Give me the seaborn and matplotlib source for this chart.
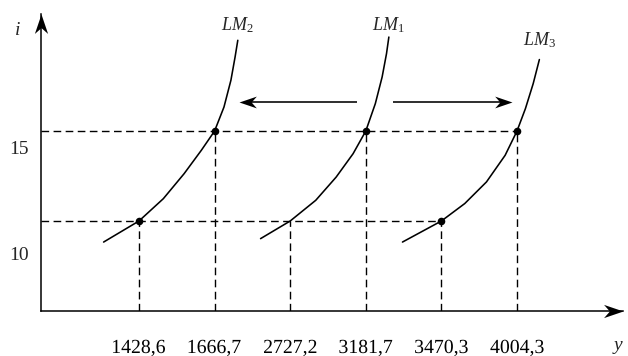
import matplotlib
matplotlib.use("Agg")
import matplotlib.pyplot as plt
import matplotlib.transforms as mtransforms
from matplotlib.path import Path
from matplotlib.patches import PathPatch
from matplotlib.textpath import TextPath
from matplotlib.font_manager import FontProperties
import seaborn as sns

# -----------------------------
# Data (schematic IS-LM shift diagram)
# -----------------------------
# output levels shown on the y (income) axis, one tick per value
y_values = [1428.6, 1666.7, 2727.2, 3181.7, 3470.3, 4004.3]
# interest rate reached at each of those output levels
y_levels = [10, 15, 10, 15, 10, 15]
i_ticks = [15, 10]
# which intersections carry a dot
dot_index = [0, 1, 3, 4, 5]

# LM curves, points (x in tick-index units, i in %)
lm2_x = [-0.468, 0.0, 0.322, 0.597, 0.825, 1.0, 1.124, 1.216, 1.271, 1.307]
lm2_i = [8.83, 10.0, 11.24, 12.63, 13.93, 15.0, 16.33, 17.82, 19.11, 20.04]
lm1_x = [1.608, 2.0, 2.338, 2.608, 2.832, 3.0, 3.126, 3.216, 3.274, 3.305]
lm1_i = [9.02, 10.0, 11.15, 12.44, 13.74, 15.0, 16.52, 18.0, 19.3, 20.22]
lm3_x = [3.485, 4.0, 4.309, 4.596, 4.843, 5.0, 5.111, 5.214, 5.296]
lm3_i = [8.83, 10.0, 10.97, 12.17, 13.65, 15.0, 16.24, 17.63, 18.97]
lm_names = ["LM_2", "LM_1", "LM_3"]

# shift arrows (from LM1 towards LM2 and LM3)
arrow_i = 16.6
arrow_left = (2.88, 1.32)
arrow_right = (3.36, 4.93)

# -----------------------------
# Style
# -----------------------------
sns.set_theme(style="white")
plt.rcParams["font.family"] = ["Liberation Serif", "DejaVu Serif"]
plt.rcParams["mathtext.fontset"] = "custom"
plt.rcParams["mathtext.rm"] = "Liberation Serif"
plt.rcParams["mathtext.it"] = "Liberation Serif:italic"

fig = plt.figure(figsize=(6.28, 3.56), dpi=100)
ax = fig.add_axes([40.7 / 628, 45 / 356, 582.3 / 628, 297 / 356])
ax.set_xlim(-1.3, 6.402)
ax.set_ylim(5, 21.5)
i_axis = 5
sns.despine(ax=ax)
for side in ["left", "bottom"]:
    ax.spines[side].set_linewidth(1.1)
    ax.spines[side].set_color("black")
ax.set_xticks([])
ax.set_yticks([])


# notched arrowhead marker, tip at the marker position
def head(angle):
    base = [(0, 0), (-1, 0.34), (-0.7, 0), (-1, -0.34), (0, 0)]
    v = mtransforms.Affine2D().rotate_deg(angle).transform(base)
    return Path(v, [Path.MOVETO, Path.LINETO, Path.LINETO, Path.LINETO, Path.CLOSEPOLY])


# axis arrowheads
ax.plot(1, 0, marker=head(0), ms=28, color="black", mew=0,
        transform=ax.transAxes, clip_on=False)
ax.plot(0, 1, marker=head(90), ms=28, color="black", mew=0,
        transform=ax.transAxes, clip_on=False)

dash = dict(color="black", lw=1.0, dashes=(5.5, 3.2))

# horizontal dashed guides
for lvl in sorted(set(y_levels)):
    x_end = max(k for k, l in enumerate(y_levels) if l == lvl)
    ax.plot([ax.get_xlim()[0], x_end], [lvl, lvl], **dash)

# vertical dashed guides
for k, lvl in enumerate(y_levels):
    ax.plot([k, k], [i_axis, lvl], **dash)

# LM curves
curves = [(lm2_x, lm2_i), (lm1_x, lm1_i), (lm3_x, lm3_i)]
label_offsets = [10, 7, 14]
for (cx, ci), name, off in zip(curves, lm_names, label_offsets):
    sns.lineplot(x=cx, y=ci, sort=False, estimator=None, color="black",
                 lw=1.15, ax=ax)
    ax.annotate(f"${name}$", xy=(cx[-1], ci[-1]), xytext=(0, off),
                textcoords="offset pixels", ha="center", va="baseline",
                fontsize=13)

# equilibrium dots
sns.scatterplot(x=dot_index, y=[y_levels[k] for k in dot_index], s=30,
                color="black", linewidth=0, zorder=5, ax=ax)

# shift arrows
ax.plot([arrow_left[0], arrow_left[1] + 0.1], [arrow_i, arrow_i],
        color="black", lw=1.15, solid_capstyle="butt")
ax.plot(arrow_left[1], arrow_i, marker=head(180), ms=25, color="black", mew=0)
ax.plot([arrow_right[0], arrow_right[1] - 0.1], [arrow_i, arrow_i],
        color="black", lw=1.15, solid_capstyle="butt")
ax.plot(arrow_right[1], arrow_i, marker=head(0), ms=25, color="black", mew=0)

# i tick labels (set a little below their guide lines)
tick_offsets = [-18, -35]
for lvl, off in zip(i_ticks, tick_offsets):
    ax.annotate(str(lvl), xy=(0, lvl), xycoords=ax.get_yaxis_transform(),
                xytext=(-12, off), textcoords="offset pixels",
                ha="right", va="center", fontsize=14)

# y tick labels, condensed like the original typesetting
fp = FontProperties(family="Liberation Serif")
em = 20
ref = TextPath((0, 0), "1428,6", size=em, prop=fp).get_extents()
sx = 52 / ref.width
for k, v in enumerate(y_values):
    s = f"{v:.1f}".replace(".", ",")
    tp = TextPath((0, 0), s, size=em, prop=fp)
    ext = tp.get_extents()
    tr = (mtransforms.Affine2D().translate(-(ext.x0 + ext.width / 2), 0)
          .scale(sx, 1).translate(0, -42)
          + mtransforms.ScaledTranslation(k, 0, ax.get_xaxis_transform()))
    fig.add_artist(PathPatch(tp, transform=tr, fc="black", ec="none"))

# axis names
ax.annotate("i", xy=(0, 1), xycoords="axes fraction", xytext=(-23, -21),
            textcoords="offset pixels", ha="center", va="baseline",
            fontsize=14, style="italic")
ax.annotate("y", xy=(1, 0), xycoords="axes fraction", xytext=(-5, -39),
            textcoords="offset pixels", ha="center", va="baseline",
            fontsize=14, style="italic")

fig.savefig("out.png", dpi=100)
